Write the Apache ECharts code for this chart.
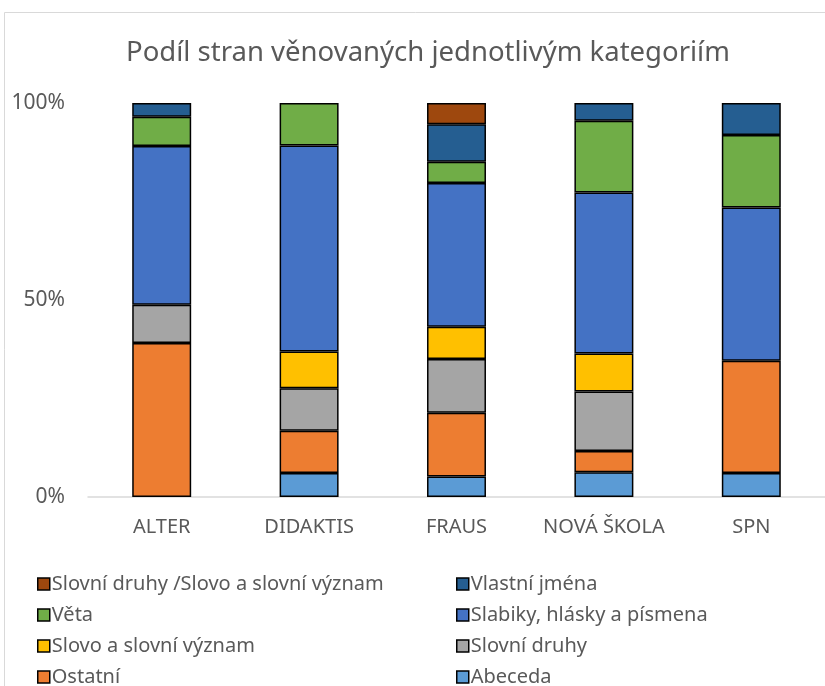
<!DOCTYPE html>
<html>
<head>
<meta charset="utf-8">
<script src="https://cdn.jsdelivr.net/npm/echarts@6/dist/echarts.min.js"></script>
<style>
  html, body { margin: 0; padding: 0; background: #fff; }
  #chart { width: 825px; height: 686px; }
</style>
</head>
<body>
<div id="chart"></div>
<script>
// kategorie (nakladatelství)
const categories = ['ALTER', 'DIDAKTIS', 'FRAUS', 'NOVÁ ŠKOLA', 'SPN'];
// podíl v %
const abeceda      = [0,    6.1,  5.2,  6.3,  6.1];
const ostatni      = [39.1, 10.7, 16.2, 5.4,  28.5];
const slovniDruhy  = [9.7,  10.8, 13.6, 15.1, 0];
const slovoVyznam  = [0,    9.3,  8.2,  9.6,  0];
const slabiky      = [40.3, 52.3, 36.5, 40.9, 38.9];
const veta         = [7.4,  10.8, 5.4,  18.2, 18.4];
const vlastniJmena = [3.5,  0,    9.5,  4.5,  8.1];
const druhySlovo   = [0,    0,    5.4,  0,    0];
const yTicks = [0, 50, 100];

const FONT = '"Noto Sans", sans-serif';
const TXT = '#595959';

let seriesDefs = [
  ['Abeceda', abeceda, '#5B9BD5'],
  ['Ostatní', ostatni, '#ED7D31'],
  ['Slovní druhy', slovniDruhy, '#A5A5A5'],
  ['Slovo a slovní význam', slovoVyznam, '#FFC000'],
  ['Slabiky, hlásky a písmena', slabiky, '#4472C4'],
  ['Věta', veta, '#70AD47'],
  ['Vlastní jména', vlastniJmena, '#255E91'],
  ['Slovní druhy /Slovo a slovní význam', druhySlovo, '#9E480E']
];

let series = seriesDefs.map(function (d) {
  return {
    name: d[0],
    type: 'bar',
    stack: 'total',
    barWidth: '40%',
    data: d[1].map(function (v) { return v === 0 ? '-' : v; }),
    itemStyle: { color: d[2], borderColor: '#000', borderWidth: 1.5 }
  };
});

// legenda: 2 sloupce x 4 řádky, každá položka zvlášť (aby se nezalamovala)
let legendOrder = [
  'Slovní druhy /Slovo a slovní význam', 'Vlastní jména',
  'Věta', 'Slabiky, hlásky a písmena',
  'Slovo a slovní význam', 'Slovní druhy',
  'Ostatní', 'Abeceda'
];
let legends = legendOrder.map(function (name, i) {
  return {
    data: [name],
    left: i % 2 === 0 ? 37 : 456,
    top: 574 + Math.floor(i / 2) * 31,
    padding: 0,
    itemWidth: 12,
    itemHeight: 12,
    icon: 'rect',
    textStyle: { fontFamily: FONT, fontSize: 20, color: TXT, padding: [0, 0, 0, -3] },
    itemStyle: { borderColor: '#000', borderWidth: 1.5 }
  };
});

let myChart = echarts.init(document.getElementById('chart'));
myChart.setOption({
  backgroundColor: '#fff',
  animation: false,
  title: {
    text: 'Podíl stran věnovaných jednotlivým kategoriím',
    left: 423,
    textAlign: 'center',
    top: 34,
    textStyle: { fontFamily: FONT, fontSize: 27.5, fontWeight: 'normal', color: TXT }
  },
  graphic: [{
    type: 'rect',
    shape: { x: 4.5, y: 12.5, width: 900, height: 800 },
    style: { fill: 'none', stroke: '#d9d9d9', lineWidth: 1 },
    silent: true
  }],
  legend: legends,
  grid: { left: 88, top: 103, width: 750, height: 394 },
  xAxis: {
    type: 'category',
    data: categories,
    axisLine: { lineStyle: { color: '#d9d9d9', width: 1.5 } },
    axisTick: { show: false },
    axisLabel: { interval: 0, fontFamily: FONT, fontSize: 20, color: TXT, margin: 20 }
  },
  yAxis: {
    type: 'value',
    min: yTicks[0],
    max: yTicks[yTicks.length - 1],
    interval: yTicks[1] - yTicks[0],
    splitLine: { show: false },
    axisLine: { show: false },
    axisTick: { show: false },
    axisLabel: { fontFamily: FONT, fontSize: 21, color: TXT, margin: 23, formatter: '{value}%' }
  },
  series: series
});
</script>
</body>
</html>
